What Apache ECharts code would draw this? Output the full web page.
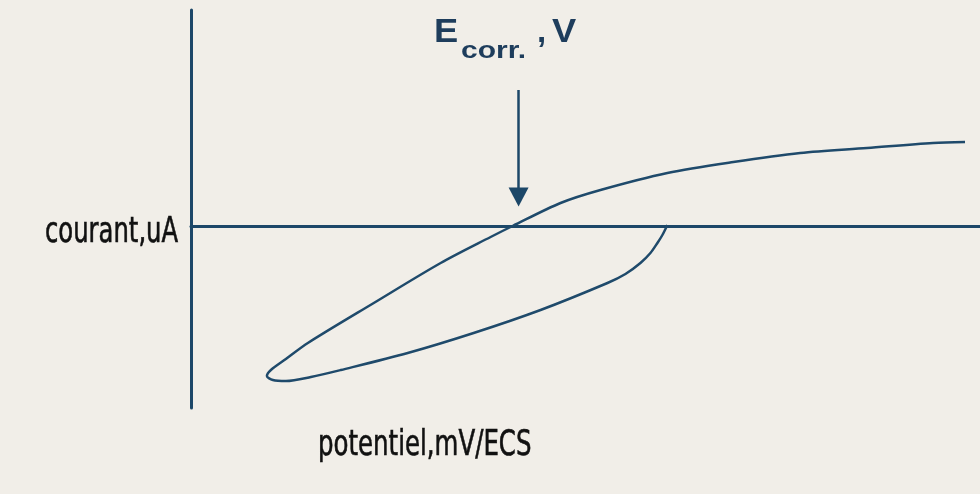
<!DOCTYPE html>
<html>
<head>
<meta charset="utf-8">
<title>Courbe de polarisation</title>
<script src="https://cdn.jsdelivr.net/npm/echarts@6/dist/echarts.min.js"></script>
<style>
  html, body { margin: 0; padding: 0; background: #f1eee8; }
  #chart { width: 980px; height: 494px; }
</style>
</head>
<body>
<div id="chart"></div>
<script>
// Polarisation curve: potential (mV/ECS) against current (uA).
// Forward branch from the anodic end down to the cathodic turning point,
// then the return branch back up to the zero-current axis.
const potentiel = [75, 43, -23, -90, -157, -223, -290, -330, -378, -400, -450, -517, -583,
                   -605, -620, -624, -618, -605, -580, -550, -483, -417, -350, -283,
                   -265, -250, -240, -233, -228, -223];
const courant   = [0.84, 0.83, 0.78, 0.73, 0.64, 0.53, 0.36, 0.23, 0.0, -0.11, -0.37, -0.77, -1.17,
                   -1.33, -1.44, -1.50, -1.54, -1.55, -1.51, -1.44, -1.27, -1.07, -0.84, -0.57,
                   -0.48, -0.37, -0.27, -0.17, -0.09, 0.01];

// Corrosion potential marked by the arrow (mV), and the arrow's extent in uA.
const eCorr = -372;
const arrowFrom = 1.36;
const arrowTo = 0.29;

const axisColor = '#1c4768';
const curveColor = '#1f4a6b';
const titleColor = '#1e3d5c';
const textNarrow = "'Liberation Sans Narrow', 'DejaVu Sans Condensed', sans-serif";
const textBold = "'Liberation Sans', Arial, sans-serif";

const chart = echarts.init(document.getElementById('chart'));

chart.setOption({
  backgroundColor: '#f1eee8',
  animation: false,
  grid: { left: 191, right: 0, top: 10, bottom: 86 },
  xAxis: {
    type: 'value',
    min: -700,
    max: 90,
    axisLine: { onZero: true, lineStyle: { color: axisColor, width: 3 } },
    axisTick: { show: false },
    axisLabel: { show: false },
    splitLine: { show: false }
  },
  yAxis: {
    type: 'value',
    min: -1.82,
    max: 2.16,
    axisLine: { show: true, onZero: false, lineStyle: { color: axisColor, width: 3 } },
    axisTick: { show: false },
    axisLabel: { show: false },
    splitLine: { show: false }
  },
  series: [{
    type: 'line',
    data: potentiel.map((p, i) => [p, courant[i]]),
    smooth: 0.3,
    showSymbol: false,
    lineStyle: { color: curveColor, width: 2.5 },
    markLine: {
      silent: true,
      symbol: ['none', 'triangle'],
      symbolSize: [20, 19],
      label: { show: false },
      lineStyle: { color: axisColor, width: 2.5, type: 'solid' },
      data: [[{ coord: [eCorr, arrowFrom] }, { coord: [eCorr, arrowTo] }]]
    }
  }],
  graphic: [
    {
      type: 'text', x: 45, y: 232.5, scaleX: 0.75,
      style: { text: 'courant,uA', fill: '#111', stroke: '#111', lineWidth: 0.6,
               font: '36px ' + textNarrow, verticalAlign: 'middle' }
    },
    {
      type: 'text', x: 318, y: 446, scaleX: 0.755,
      style: { text: 'potentiel,mV/ECS', fill: '#111', stroke: '#111', lineWidth: 0.6,
               font: '36px ' + textNarrow, verticalAlign: 'middle' }
    },
    {
      type: 'text', x: 434, y: 33, scaleX: 1.1,
      style: { text: 'E', fill: titleColor, font: 'bold 33px ' + textBold, verticalAlign: 'middle' }
    },
    {
      type: 'text', x: 461, y: 51, scaleX: 1.25,
      style: { text: 'corr.', fill: titleColor, font: 'bold 24px ' + textBold, verticalAlign: 'middle' }
    },
    {
      type: 'text', x: 537, y: 33,
      style: { text: ',', fill: titleColor, font: 'bold 33px ' + textBold, verticalAlign: 'middle' }
    },
    {
      type: 'text', x: 552, y: 33, scaleX: 1.1,
      style: { text: 'V', fill: titleColor, font: 'bold 33px ' + textBold, verticalAlign: 'middle' }
    }
  ]
});
</script>
</body>
</html>
